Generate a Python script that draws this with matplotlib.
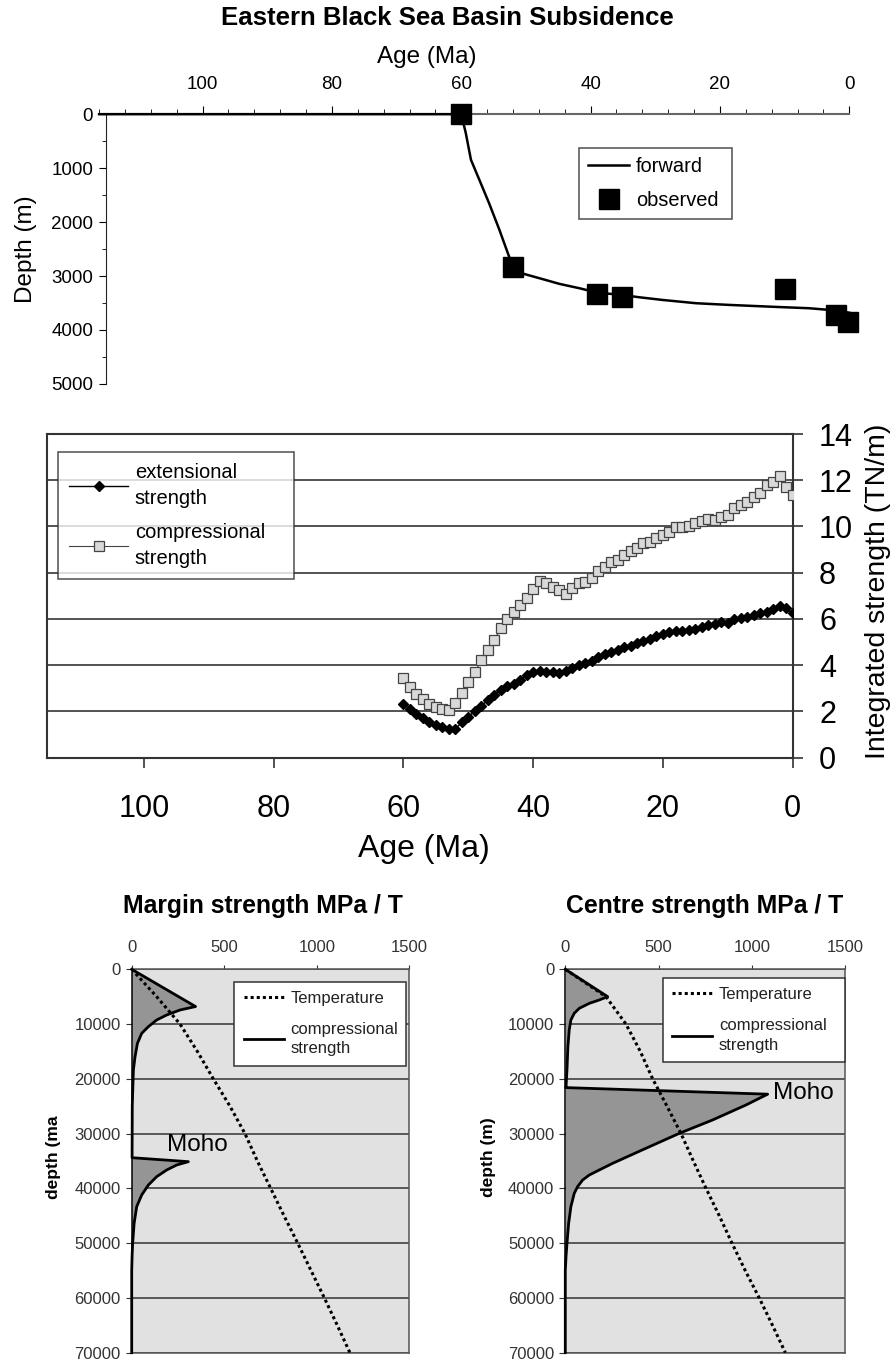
import numpy as np
import matplotlib.pyplot as plt
from matplotlib.ticker import MultipleLocator

plt.rcParams['font.family'] = ['Liberation Sans', 'DejaVu Sans']

#-------------- subsidence (top panel)
fwd_age = [116, 60, 59.3, 58.5, 57.2, 55.7, 54.1, 52.8, 52.0, 50.3, 47.9, 44.8, 41.7,
           39.0, 35.2, 32.5, 28.9, 23.7, 18.6, 12.4, 6.2, 3.1, 0]
fwd_depth = [0, 0, 352, 847, 1218, 1650, 2145, 2577, 2830, 2961, 3041, 3146, 3227,
             3307, 3350, 3393, 3443, 3504, 3535, 3567, 3597, 3628, 3680]
obs_age = [60, 52.0, 39.0, 35.2, 10.0, 2.1, 0.15]
obs_depth = [0, 2825, 3332, 3381, 3233, 3721, 3845]

#-------------- integrated strength (middle panel), one value per Ma from 60 to 0
str_age = list(range(60, -1, -1))
ext_strength = [2.32, 2.09, 1.89, 1.73, 1.56, 1.41, 1.34, 1.25, 1.22, 1.55,
                1.75, 2.03, 2.25, 2.48, 2.72, 2.92, 3.08, 3.20, 3.38, 3.56,
                3.72, 3.76, 3.72, 3.69, 3.68, 3.76, 3.90, 4.00, 4.10, 4.20,
                4.34, 4.48, 4.57, 4.67, 4.77, 4.85, 4.94, 5.05, 5.15, 5.26,
                5.35, 5.44, 5.48, 5.47, 5.52, 5.58, 5.65, 5.72, 5.79, 5.86,
                5.84, 5.98, 6.06, 6.10, 6.17, 6.26, 6.31, 6.42, 6.55, 6.46,
                6.25]
comp_strength = [3.46, 3.07, 2.75, 2.52, 2.30, 2.18, 2.10, 2.08, 2.35, 2.78,
                 3.29, 3.69, 4.22, 4.65, 5.09, 5.59, 5.98, 6.30, 6.60, 6.92,
                 7.28, 7.64, 7.54, 7.40, 7.25, 7.10, 7.32, 7.54, 7.61, 7.79,
                 8.09, 8.26, 8.48, 8.55, 8.77, 8.95, 9.05, 9.27, 9.34, 9.49,
                 9.63, 9.78, 9.99, 9.99, 10.02, 10.14, 10.24, 10.31, 10.28, 10.40,
                 10.50, 10.78, 10.93, 11.07, 11.26, 11.46, 11.79, 11.94, 12.20, 11.72,
                 11.36]

#-------------- strength envelopes (bottom panels)
temp_depth = [0, 5000, 10000, 15000, 20000, 25000, 30000, 35000, 40000,
              45000, 50000, 55000, 60000, 65000, 70000]
margin_temp = [0, 135, 261, 355, 441, 531, 612, 679, 751, 823, 897, 969, 1041, 1111, 1179]
centre_temp = [0, 218, 325, 402, 468, 545, 620, 686, 754, 825, 893, 964, 1039, 1110, 1179]

margin_depth = [0, 6800, 7430, 8340, 9250, 10470, 11690, 13510, 15950, 18380, 25000,
                34400, 35120, 35730, 36640, 37860, 39380, 41200, 43330, 46380,
                50030, 52460, 55000, 70000]
margin_str = [0, 345, 261, 189, 135, 90, 54, 31, 18, 9, 3,
              2, 306, 243, 189, 135, 90, 54, 27, 13,
              5, 2, 0, 0]
centre_depth = [0, 4990, 5600, 6210, 7120, 8030, 9250, 11080, 14120, 18380, 21420,
                21600, 22800, 24770, 27510, 29950, 32680, 35420, 36640, 37550,
                38470, 39680, 40900, 43330, 46380, 50030, 52460, 55000, 70000]
centre_str = [0, 227, 182, 129, 75, 48, 30, 21, 14, 9, 4,
              2, 1084, 968, 789, 611, 432, 254, 182, 129,
              93, 66, 48, 30, 18, 9, 4, 0, 0]

#-------------- figure
fig = plt.figure(figsize=(8.96, 13.61), dpi=100)
fig.text(0.499, 0.9866, 'Eastern Black Sea Basin Subsidence', ha='center', va='center',
         fontsize=18.5, fontweight='bold')

# top panel
ax1 = fig.add_axes([0.1106, 0.7179, 0.8373, 0.1982])
ax1.plot(fwd_age, fwd_depth, color='black', lw=1.8, clip_on=False, zorder=3, label='forward')
ax1.plot(obs_age, obs_depth, 's', color='black', ms=15, ls='none', clip_on=False,
         zorder=4, label='observed')
ax1.set_xlim(116, 0)
ax1.set_ylim(5000, 0)
ax1.spines['right'].set_visible(False)
ax1.spines['bottom'].set_visible(False)
ax1.spines['left'].set_position(('data', 115))
ax1.spines['left'].set_color('#222')
ax1.spines['top'].set_color('#666')
ax1.spines['top'].set_linewidth(1.5)
ax1.xaxis.tick_top()
ax1.xaxis.set_label_position('top')
ax1.set_xticks([100, 80, 60, 40, 20, 0])
ax1.xaxis.set_minor_locator(MultipleLocator(4))
ax1.set_yticks(range(0, 5001, 1000))
ax1.yaxis.set_minor_locator(MultipleLocator(500))
ax1.tick_params(axis='x', which='major', direction='out', length=6, labelsize=13.5, pad=9)
ax1.tick_params(axis='x', which='minor', direction='out', length=3.5)
ax1.tick_params(axis='y', which='major', direction='out', length=5, labelsize=13.5, pad=4)
ax1.tick_params(axis='y', which='minor', direction='out', length=3)
ax1.set_xlabel('Age (Ma)', fontsize=17.5)
ax1.xaxis.set_label_coords(0.437, 1.19)
ax1.set_ylabel('Depth (m)', fontsize=17.5)
ax1.yaxis.set_label_coords(-0.083, 0.5)
leg1 = ax1.legend(loc='upper left', bbox_to_anchor=(0.64, 0.6255, 0.2037, 0.2505), mode='expand',
                  borderaxespad=0, fontsize=14.4, frameon=True, fancybox=False,
                  handlelength=2.05, handletextpad=0.35, borderpad=0.45, labelspacing=0.75)
leg1.get_frame().set_edgecolor('#333')
leg1.get_frame().set_linewidth(1.2)

# middle panel
ax2 = fig.add_axes([0.0521, 0.4433, 0.8326, 0.2378])
ax2.plot(str_age, ext_strength, color='black', lw=1.0, marker='D', ms=5.5,
         mfc='black', mec='black', label='extensional\nstrength', zorder=3)
ax2.plot(str_age, comp_strength, color='#444', lw=0.8, marker='s', ms=7,
         mfc='#d9d9d9', mec='#444', mew=0.9, label='compressional\nstrength', zorder=3)
ax2.set_xlim(115, 0)
ax2.set_ylim(0, 14)
ax2.set_xticks([100, 80, 60, 40, 20, 0])
ax2.set_yticks(range(0, 15, 2))
ax2.yaxis.tick_right()
ax2.yaxis.set_label_position('right')
ax2.grid(axis='y', color='#444', lw=1.3)
ax2.set_axisbelow(True)
for s in ax2.spines.values():
    s.set_color('#333')
    s.set_linewidth(1.5)
ax2.tick_params(axis='x', direction='out', length=7, width=1.2, labelsize=22, pad=19, color='#333')
ax2.tick_params(axis='y', direction='out', length=7, width=1.2, labelsize=22, pad=12, color='#333')
ax2.set_xlabel('Age (Ma)', fontsize=23)
ax2.xaxis.set_label_coords(0.506, -0.236)
ax2.set_ylabel('Integrated strength (TN/m)', fontsize=20.5, rotation=90)
ax2.yaxis.set_label_coords(1.097, 0.515)
leg2 = ax2.legend(loc='upper left', bbox_to_anchor=(0.0155, 0.551, 0.316, 0.394), mode='expand',
                  borderaxespad=0, fontsize=14.5, frameon=True, fancybox=False,
                  handlelength=2.9, handletextpad=0.35, borderpad=0.55, labelspacing=0.75)
leg2.get_frame().set_edgecolor('#333')
leg2.get_frame().set_linewidth(1.2)
for t in leg2.get_texts():
    t.set_linespacing(1.45)


def strength_panel(rect, title, ylabel, strength, depth, temp, moho_xy, leg_box, title_x):
    ax = fig.add_axes(rect)
    ax.set_facecolor('#e1e1e1')
    ax.fill_betweenx(depth, 0, strength, color='#959595', lw=0, zorder=2)
    ax.plot(strength, depth, color='black', lw=2.0, zorder=3, label='compressional\nstrength',
            clip_on=False)
    ax.plot(temp, temp_depth, color='black', lw=2.2, ls=(0, (1, 1)), zorder=3,
            label='Temperature')
    ax.set_xlim(0, 1500)
    ax.set_ylim(70000, 0)
    ax.xaxis.tick_top()
    ax.set_xticks([0, 500, 1000, 1500])
    ax.set_yticks(range(0, 70001, 10000))
    ax.grid(axis='y', color='#333', lw=1.1)
    ax.set_axisbelow(True)
    for s in ax.spines.values():
        s.set_color('#555')
        s.set_linewidth(1.1)
    ax.spines['left'].set_color('black')
    ax.tick_params(axis='x', direction='out', length=3, labelsize=12, pad=7, colors='#333')
    ax.tick_params(axis='y', direction='out', length=4, labelsize=12, pad=4, colors='#333')
    ax.set_title(title, fontsize=17.8, fontweight='bold', x=title_x, y=1.125)
    ax.set_ylabel(ylabel, fontsize=12.5, fontweight='bold')
    ax.text(moho_xy[0], moho_xy[1], 'Moho', fontsize=17.5, ha='center', va='center', zorder=4)
    h, l = ax.get_legend_handles_labels()
    leg = ax.legend(h[::-1], l[::-1], loc='upper left', bbox_to_anchor=leg_box, mode='expand',
                    borderaxespad=0, fontsize=12, frameon=True, fancybox=False,
                    handlelength=2.4, handletextpad=0.4, borderpad=0.55, labelspacing=0.95,
                    labelcolor='#222')
    for t in leg.get_texts():
        t.set_linespacing(1.4)
    leg.get_frame().set_edgecolor('#333')
    leg.get_frame().set_linewidth(1.1)
    leg.get_frame().set_alpha(1)
    return ax


ax3 = strength_panel([0.147, 0.0061, 0.3098, 0.2817], 'Margin strength MPa / T', 'depth (ma',
                     margin_str, margin_depth, margin_temp, (353, 32100),
                     (0.37, 0.739, 0.617, 0.229), 0.471)
ax3.yaxis.set_label_coords(-0.253, 0.51)
ax4 = strength_panel([0.6309, 0.0061, 0.3125, 0.2817], 'Centre strength MPa / T', 'depth (m)',
                     centre_str, centre_depth, centre_temp, (1276, 22600),
                     (0.349, 0.75, 0.651, 0.227), 0.499)
ax4.yaxis.set_label_coords(-0.246, 0.51)

fig.savefig('out.png', dpi=100)
